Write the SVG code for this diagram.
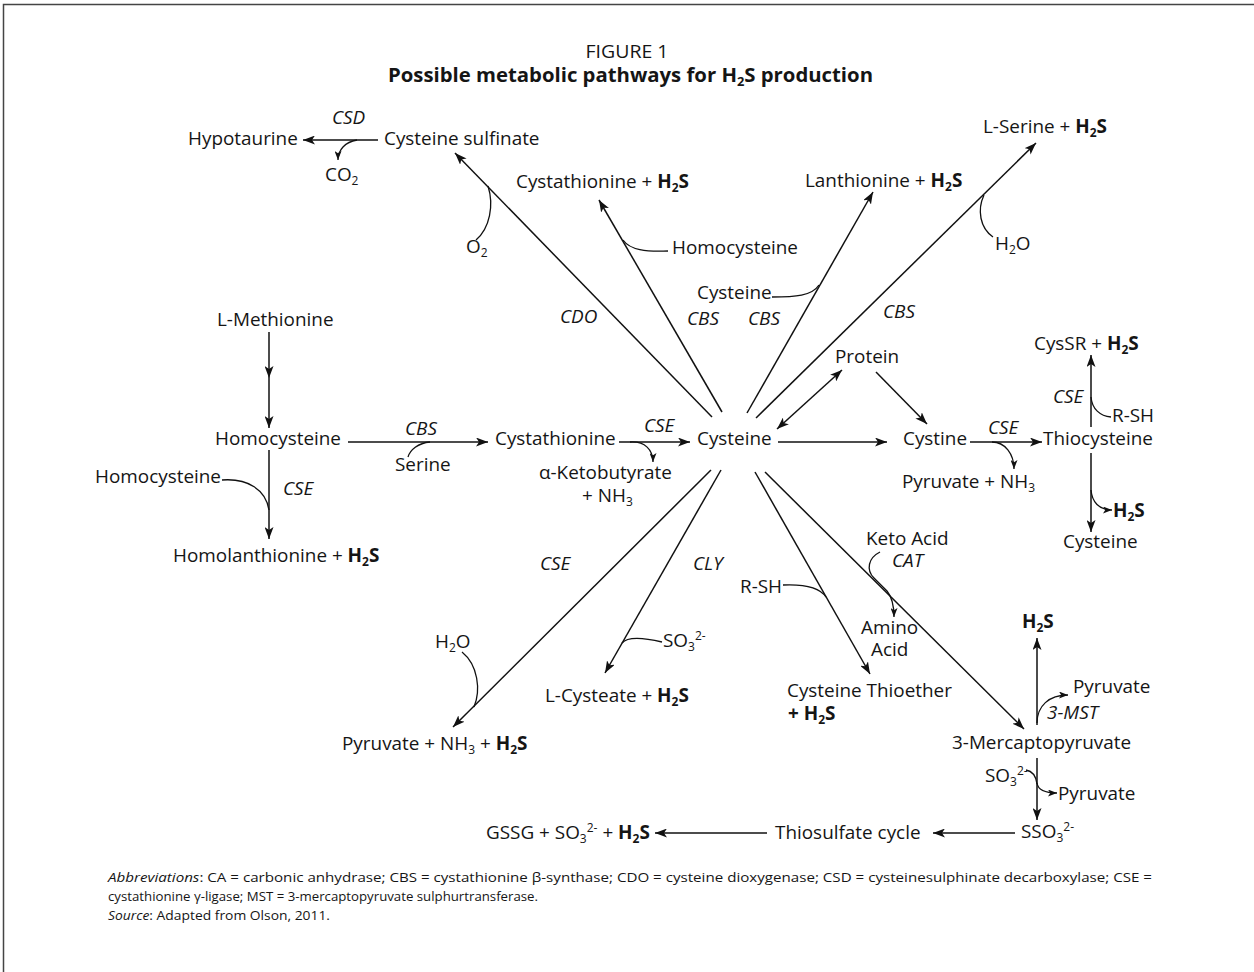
<svg xmlns="http://www.w3.org/2000/svg" width="1254" height="972" viewBox="0 0 1254 972">
<style>
.t{font-family:"Open Sans","Liberation Sans",sans-serif;font-size:18.9px;fill:#151515}
.i{font-style:italic}
.b{font-weight:bold}
.m{text-anchor:middle}
.s{font-size:12px}
.ab{font-family:"Open Sans","Liberation Sans",sans-serif;font-size:13.5px;fill:#151515}
.ln{stroke:#111;stroke-width:1.5;fill:none}
.cv{stroke:#111;stroke-width:1.3;fill:none}
.ar{marker-end:url(#ah)}
.sa{marker-end:url(#sh)}
</style>
<defs>
<marker id="ah" viewBox="0 0 12 9" refX="12" refY="4.5" markerWidth="12" markerHeight="9" markerUnits="userSpaceOnUse" orient="auto-start-reverse"><path d="M0,0 L12,4.5 L0,9 L3,4.5 z" fill="#111"/></marker>
<marker id="sh" viewBox="0 0 9 7" refX="9" refY="3.5" markerWidth="9" markerHeight="7" markerUnits="userSpaceOnUse" orient="auto"><path d="M0,0 L9,3.5 L0,7 L2.2,3.5 z" fill="#111"/></marker>
</defs>
<rect width="1254" height="972" fill="#fff"/>
<path d="M3.5,972 V4.5 H1254" stroke="#444" stroke-width="1.5" fill="none"/>

<g id="title">
<text class="t m" x="627" y="58" style="font-size:17.5px" textLength="83" lengthAdjust="spacingAndGlyphs">FIGURE 1</text>
<text class="t b" x="388" y="82" style="font-size:19px" textLength="485" lengthAdjust="spacingAndGlyphs">Possible metabolic pathways for H<tspan class="s" dy="4">2</tspan><tspan dy="-4">S production</tspan></text>
</g>

<g id="connectors">
<path class="ln ar" d="M378,140 H303"/>
<path class="cv sa" d="M357,140 C345,142 338,150 338,160"/>
<path class="ln ar" d="M712,417 L455,153"/>
<path class="cv" d="M488,186 C494,205 490,228 476,240"/>
<path class="ln ar" d="M722,412 L599,200"/>
<path class="cv" d="M623,240 C630,250 646,252 668,251"/>
<path class="ln ar" d="M747,413 L873,192"/>
<path class="cv" d="M772,297 C795,297 812,296 819,285"/>
<path class="ln ar" d="M756,418 L1036,143"/>
<path class="cv" d="M984,195 C977,210 980,228 993,237"/>
<path class="ln ar" d="M777,429 L842,370" style="marker-start:url(#ah)"/>
<path class="ln ar" d="M876,372 L927,424"/>
<path class="ln ar" d="M778,442 H887"/>
<path class="ln ar" d="M970,442 H1042"/>
<path class="cv sa" d="M992,442 C1005,442 1014,454 1014,469"/>
<path class="ln ar" d="M1091,427 V355"/>
<path class="cv" d="M1091,397 C1092,409 1100,416 1111,417"/>
<path class="ln ar" d="M1091,453 V532"/>
<path class="cv sa" d="M1091,490 C1092,502 1099,510 1112,510"/>
<path class="ln ar" d="M269,332 L269,378 L269,428" style="marker-mid:url(#ah)"/>
<path class="ln ar" d="M348,442 H488"/>
<path class="cv" d="M430,442 C418,443 410,450 408,457"/>
<path class="ln ar" d="M269,450 V539"/>
<path class="cv" d="M222,480 C248,478 266,490 269,510"/>
<path class="ln ar" d="M619,442 H690"/>
<path class="cv sa" d="M630,442 C645,441 653,450 653,462"/>
<path class="ln ar" d="M711,470 L453,727"/>
<path class="cv" d="M462,652 C478,665 481,690 474,707"/>
<path class="ln ar" d="M721,470 L605,673"/>
<path class="cv" d="M662,642 C645,638 628,636 622,643"/>
<path class="ln ar" d="M755,472 L870,674"/>
<path class="cv" d="M783,585 C805,584 820,588 826,597"/>
<path class="ln ar" d="M765,472 L1024,729"/>
<path class="cv sa" d="M880,552 C868,558 866,570 874,578 L887,591 C892,597 894,605 894,617"/>
<path class="ln ar" d="M1037,725 V638"/>
<path class="cv sa" d="M1037,723 C1037,706 1049,695 1068,695"/>
<path class="ln ar" d="M1037,758 V820"/>
<path class="cv" d="M1026,770 C1032,771 1036,776 1037,784"/>
<path class="cv sa" d="M1037,783 C1038,790 1045,793 1057,793"/>
<path class="ln ar" d="M1015,833 H933"/>
<path class="ln ar" d="M767,833 H655"/>
</g>

<g id="n-hypotaurine"><text class="t" x="188" y="145">Hypotaurine</text></g>
<g id="e-csd"><text class="t i" x="332" y="124">CSD</text></g>
<g id="n-co2"><text class="t" x="325" y="181">CO<tspan class="s" dy="4">2</tspan></text></g>
<g id="n-cysteine-sulfinate"><text class="t" x="384" y="145">Cysteine sulfinate</text></g>
<g id="n-o2"><text class="t" x="466" y="253">O<tspan class="s" dy="4">2</tspan></text></g>
<g id="n-cystathionine-h2s"><text class="t" x="516" y="188">Cystathionine + <tspan class="b">H<tspan class="s" dy="4">2</tspan><tspan dy="-4">S</tspan></tspan></text></g>
<g id="n-homocysteine-top"><text class="t" x="672" y="254">Homocysteine</text></g>
<g id="n-cysteine-top"><text class="t" x="697" y="299">Cysteine</text></g>
<g id="e-cbs1"><text class="t i" x="687" y="325">CBS</text></g>
<g id="e-cbs2"><text class="t i" x="748" y="325">CBS</text></g>
<g id="e-cdo"><text class="t i" x="560" y="323">CDO</text></g>
<g id="n-lanthionine"><text class="t" x="805" y="187">Lanthionine + <tspan class="b">H<tspan class="s" dy="4">2</tspan><tspan dy="-4">S</tspan></tspan></text></g>
<g id="n-lserine"><text class="t" x="983" y="133">L-Serine + <tspan class="b">H<tspan class="s" dy="4">2</tspan><tspan dy="-4">S</tspan></tspan></text></g>
<g id="n-h2o-top"><text class="t" x="995" y="250">H<tspan class="s" dy="4">2</tspan><tspan dy="-4">O</tspan></text></g>
<g id="e-cbs3"><text class="t i" x="883" y="318">CBS</text></g>
<g id="n-protein"><text class="t" x="835" y="363">Protein</text></g>
<g id="n-cystine"><text class="t" x="903" y="445">Cystine</text></g>
<g id="e-cse-cystine"><text class="t i" x="988" y="434">CSE</text></g>
<g id="n-pyruvate-nh3"><text class="t" x="902" y="488">Pyruvate + NH<tspan class="s" dy="4">3</tspan></text></g>
<g id="n-thiocysteine"><text class="t" x="1043" y="445">Thiocysteine</text></g>
<g id="n-cyssr"><text class="t" x="1034" y="350">CysSR + <tspan class="b">H<tspan class="s" dy="4">2</tspan><tspan dy="-4">S</tspan></tspan></text></g>
<g id="e-cse-thio"><text class="t i" x="1053" y="403">CSE</text></g>
<g id="n-rsh-right"><text class="t" x="1112" y="422">R-SH</text></g>
<g id="n-h2s-thio"><text class="t b" x="1113" y="517">H<tspan class="s" dy="4">2</tspan><tspan dy="-4">S</tspan></text></g>
<g id="n-cysteine-right"><text class="t" x="1063" y="548">Cysteine</text></g>
<g id="n-lmethionine"><text class="t" x="217" y="326">L-Methionine</text></g>
<g id="n-homocysteine"><text class="t" x="215" y="445">Homocysteine</text></g>
<g id="e-cbs-left"><text class="t i" x="405" y="435">CBS</text></g>
<g id="n-serine"><text class="t" x="395" y="471">Serine</text></g>
<g id="n-homocysteine-left"><text class="t" x="95" y="483">Homocysteine</text></g>
<g id="e-cse-left"><text class="t i" x="283" y="495">CSE</text></g>
<g id="n-homolanthionine"><text class="t" x="173" y="562">Homolanthionine + <tspan class="b">H<tspan class="s" dy="4">2</tspan><tspan dy="-4">S</tspan></tspan></text></g>
<g id="n-cystathionine"><text class="t" x="495" y="445">Cystathionine</text></g>
<g id="e-cse-mid"><text class="t i" x="644" y="432">CSE</text></g>
<g id="n-cysteine"><text class="t" x="697" y="445">Cysteine</text></g>
<g id="n-ketobutyrate"><text class="t" x="539" y="479">α-Ketobutyrate</text><text class="t" x="582" y="502">+ NH<tspan class="s" dy="4">3</tspan></text></g>
<g id="e-cse-bottom"><text class="t i" x="540" y="570">CSE</text></g>
<g id="e-cly"><text class="t i" x="693" y="570">CLY</text></g>
<g id="n-h2o-bottom"><text class="t" x="435" y="648">H<tspan class="s" dy="4">2</tspan><tspan dy="-4">O</tspan></text></g>
<g id="n-pyruvate-nh3-h2s"><text class="t" x="342" y="750">Pyruvate + NH<tspan class="s" dy="4">3</tspan><tspan dy="-4"> + </tspan><tspan class="b">H<tspan class="s" dy="4">2</tspan><tspan dy="-4">S</tspan></tspan></text></g>
<g id="n-so3"><text class="t" x="663" y="647">SO<tspan class="s" dy="4">3</tspan><tspan class="s" dy="-11">2-</tspan></text></g>
<g id="n-lcysteate"><text class="t" x="545" y="702">L-Cysteate + <tspan class="b">H<tspan class="s" dy="4">2</tspan><tspan dy="-4">S</tspan></tspan></text></g>
<g id="n-rsh-bottom"><text class="t" x="740" y="593">R-SH</text></g>
<g id="n-keto-acid"><text class="t" x="866" y="545">Keto Acid</text></g>
<g id="e-cat"><text class="t i" x="892" y="567">CAT</text></g>
<g id="n-amino-acid"><text class="t" x="861" y="634">Amino</text><text class="t" x="871" y="656">Acid</text></g>
<g id="n-thioether"><text class="t" x="787" y="697">Cysteine Thioether</text><text class="t b" x="788" y="720">+ H<tspan class="s" dy="4">2</tspan><tspan dy="-4">S</tspan></text></g>
<g id="n-h2s-mp"><text class="t b" x="1022" y="628">H<tspan class="s" dy="4">2</tspan><tspan dy="-4">S</tspan></text></g>
<g id="n-pyruvate-mst"><text class="t" x="1073" y="693">Pyruvate</text></g>
<g id="e-3mst"><text class="t i" x="1047" y="719">3-MST</text></g>
<g id="n-3mp"><text class="t" x="952" y="749">3-Mercaptopyruvate</text></g>
<g id="n-so3-mp"><text class="t" x="985" y="782">SO<tspan class="s" dy="4">3</tspan><tspan class="s" dy="-11">2-</tspan></text></g>
<g id="n-pyruvate-so3"><text class="t" x="1058" y="800">Pyruvate</text></g>
<g id="n-sso3"><text class="t" x="1021" y="838">SSO<tspan class="s" dy="4">3</tspan><tspan class="s" dy="-11">2-</tspan></text></g>
<g id="n-thiosulfate"><text class="t" x="775" y="839">Thiosulfate cycle</text></g>
<g id="n-gssg"><text class="t" x="486" y="839">GSSG + SO<tspan class="s" dy="4">3</tspan><tspan class="s" dy="-11">2-</tspan><tspan dy="7"> + </tspan><tspan class="b">H<tspan class="s" dy="4">2</tspan><tspan dy="-4">S</tspan></tspan></text></g>

<g id="notes">
<text class="ab" x="108" y="882" textLength="1044" lengthAdjust="spacingAndGlyphs"><tspan font-style="italic">Abbreviations</tspan>: CA = carbonic anhydrase; CBS = cystathionine β-synthase; CDO = cysteine dioxygenase; CSD = cysteinesulphinate decarboxylase; CSE =</text>
<text class="ab" x="108" y="901" textLength="430" lengthAdjust="spacingAndGlyphs">cystathionine γ-ligase; MST = 3-mercaptopyruvate sulphurtransferase.</text>
<text class="ab" x="108" y="920" textLength="222" lengthAdjust="spacingAndGlyphs"><tspan font-style="italic">Source</tspan>: Adapted from Olson, 2011.</text>
</g>
</svg>
